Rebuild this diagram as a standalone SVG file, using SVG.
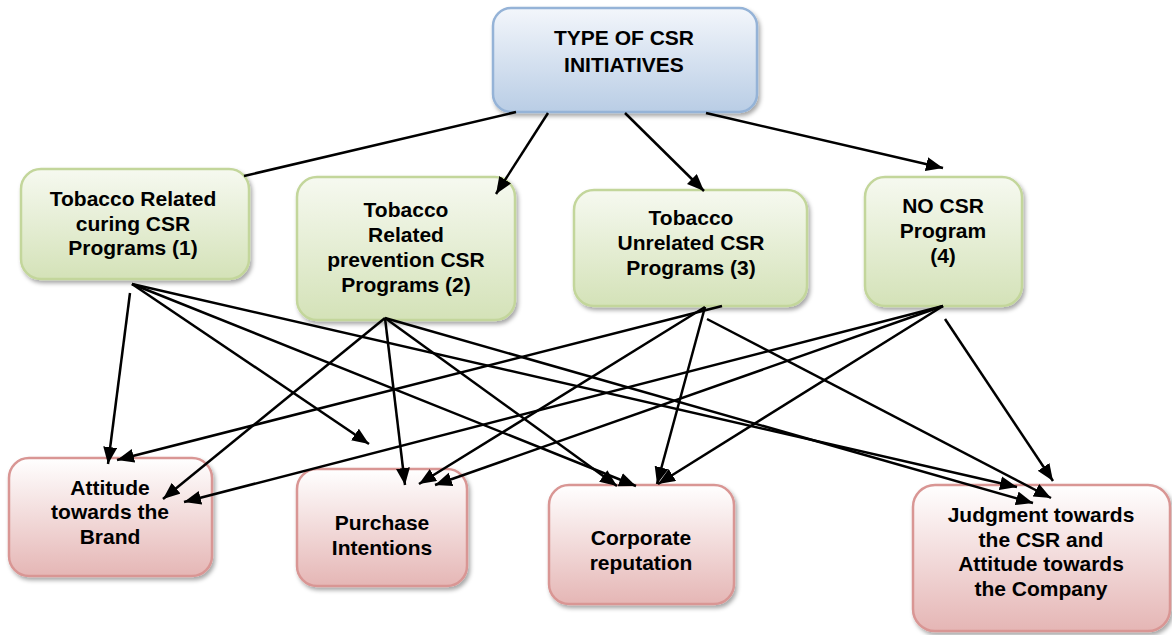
<svg xmlns="http://www.w3.org/2000/svg" width="1172" height="635" viewBox="0 0 1172 635">
<defs>
<linearGradient id="gBlue" x1="0" y1="0" x2="0" y2="1">
<stop offset="0" stop-color="#F3F6FB"/>
<stop offset="1" stop-color="#B9CDE5"/>
</linearGradient>
<linearGradient id="gGreen" x1="0" y1="0" x2="0" y2="1">
<stop offset="0" stop-color="#F6F9F0"/>
<stop offset="1" stop-color="#D4E2B8"/>
</linearGradient>
<linearGradient id="gRed" x1="0" y1="0" x2="0" y2="1">
<stop offset="0" stop-color="#FFFFFF"/>
<stop offset="1" stop-color="#E5B6B5"/>
</linearGradient>
<filter id="sh" x="-10%" y="-10%" width="130%" height="130%">
<feDropShadow dx="2" dy="3" stdDeviation="2" flood-color="#000" flood-opacity="0.35"/>
</filter>
<marker id="arr" markerUnits="userSpaceOnUse" markerWidth="18" markerHeight="15" refX="17" refY="7" orient="auto">
<path d="M0,0 L17,7 L0,14 z" fill="#000"/>
</marker>
</defs>
<style>
.box{stroke-width:2.5;filter:url(#sh)}
.blue{fill:url(#gBlue);stroke:#95B3D7}
.green{fill:url(#gGreen);stroke:#C3D69B}
.red{fill:url(#gRed);stroke:#D99694}
text{font-family:"Liberation Sans",Arial,sans-serif;font-weight:bold;font-size:21px;fill:#000;text-anchor:middle}
.c line{stroke:#000;stroke-width:2.5}
.c .a{marker-end:url(#arr)}
</style>

<g id="node-top">
<rect class="box blue" x="493" y="8" width="264" height="104" rx="18"/>
<text x="624" y="45">TYPE OF CSR</text>
<text x="624" y="72">INITIATIVES</text>
</g>

<g id="node-g1">
<rect class="box green" x="21" y="169" width="228" height="110" rx="20"/>
<text x="133" y="206">Tobacco Related</text>
<text x="133" y="231">curing CSR</text>
<text x="133" y="255">Programs (1)</text>
</g>

<g id="node-g2">
<rect class="box green" x="297" y="177" width="218" height="143" rx="20"/>
<text x="406" y="217">Tobacco</text>
<text x="406" y="242">Related</text>
<text x="406" y="267">prevention CSR</text>
<text x="406" y="292">Programs (2)</text>
</g>

<g id="node-g3">
<rect class="box green" x="574" y="190" width="233" height="116" rx="20"/>
<text x="691" y="225">Tobacco</text>
<text x="691" y="250">Unrelated CSR</text>
<text x="691" y="275">Programs (3)</text>
</g>

<g id="node-g4">
<rect class="box green" x="865" y="177" width="157" height="129" rx="20"/>
<text x="943" y="213">NO CSR</text>
<text x="943" y="238">Program</text>
<text x="943" y="263">(4)</text>
</g>

<g id="node-r1">
<rect class="box red" x="9" y="458" width="203" height="118" rx="20"/>
<text x="110" y="495">Attitude</text>
<text x="110" y="519">towards the</text>
<text x="110" y="544">Brand</text>
</g>

<g id="node-r2">
<rect class="box red" x="297" y="469" width="170" height="117" rx="20"/>
<text x="382" y="530">Purchase</text>
<text x="382" y="555">Intentions</text>
</g>

<g id="node-r3">
<rect class="box red" x="549" y="485" width="185" height="119" rx="20"/>
<text x="641" y="545">Corporate</text>
<text x="641" y="570">reputation</text>
</g>

<g id="node-r4">
<rect class="box red" x="913" y="485" width="257" height="146" rx="22"/>
<text x="1041" y="522">Judgment towards</text>
<text x="1041" y="547">the CSR and</text>
<text x="1041" y="571">Attitude towards</text>
<text x="1041" y="596">the Company</text>
</g>

<g id="connectors" class="c">
<line x1="516" y1="112" x2="244" y2="176"/>
<line class="a" x1="548" y1="113" x2="496" y2="194"/>
<line class="a" x1="625" y1="113" x2="704" y2="191"/>
<line class="a" x1="706" y1="113" x2="943" y2="168"/>

<line class="a" x1="130" y1="293" x2="108" y2="464"/>
<line class="a" x1="132" y1="284" x2="369" y2="444"/>
<line class="a" x1="132" y1="284" x2="636" y2="486"/>
<line class="a" x1="132" y1="284" x2="1017" y2="487"/>

<line class="a" x1="385" y1="318" x2="163" y2="499"/>
<line class="a" x1="385" y1="318" x2="405" y2="485"/>
<line class="a" x1="385" y1="318" x2="617" y2="486"/>
<line class="a" x1="385" y1="318" x2="1033" y2="503"/>

<line class="a" x1="722" y1="306" x2="117" y2="460"/>
<line class="a" x1="705" y1="307" x2="419" y2="484"/>
<line class="a" x1="705" y1="307" x2="657" y2="484"/>
<line class="a" x1="707" y1="319" x2="1051" y2="498"/>

<line class="a" x1="943" y1="306" x2="184" y2="502"/>
<line class="a" x1="943" y1="306" x2="435" y2="485"/>
<line class="a" x1="943" y1="306" x2="658" y2="484"/>
<line class="a" x1="945" y1="319" x2="1053" y2="481"/>
</g>
</svg>
